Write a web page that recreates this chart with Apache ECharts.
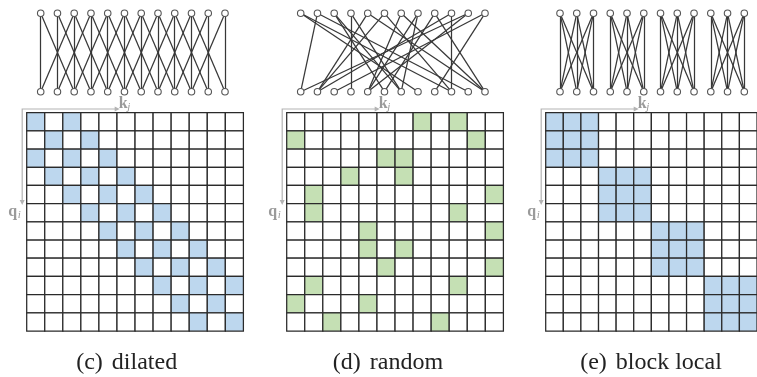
<!DOCTYPE html>
<html>
<head>
<meta charset="utf-8">
<script src="https://cdn.jsdelivr.net/npm/echarts@6/dist/echarts.min.js"></script>
<style>html,body{margin:0;padding:0;background:#fff;}#c{width:757px;height:377px;}</style>
</head>
<body>
<div id="c"></div>
<script>
// ---- data ----
var indices = ['0','1','2','3','4','5','6','7','8','9','10','11'];
var captionTags = ['(c)', '(d)', '(e)'];
var captionNames = ['dilated', 'random', 'block local'];
// colored key columns for each query row
var dilatedCols = [[0,2],[1,3],[0,2,4],[1,3,5],[2,4,6],[3,5,7],[4,6,8],[5,7,9],[6,8,10],[7,9,11],[8,10],[9,11]];
var randomCols  = [[7,9],[0,10],[5,6],[3,6],[1,11],[1,9],[4,11],[4,6],[5,11],[1,9],[0,4],[2,8]];
var blockCols   = [[0,1,2],[0,1,2],[0,1,2],[3,4,5],[3,4,5],[3,4,5],[6,7,8],[6,7,8],[6,7,8],[9,10,11],[9,10,11],[9,10,11]];
var fillColors  = ['#bdd7ee', '#c5e0b4', '#bdd7ee'];

// ---- layout ----
var patterns = [dilatedCols, randomCols, blockCols];
var gridLefts = [26.7, 286.7, 545.7];
var nodeLefts = [40.7, 300.7, 560];
var captionX = [126.7, 388, 651];
var matTop = 112.7, matW = 216.7, matH = 218.3;
var graphTop = 13.3, graphH = 78.4, graphW = 184.3;

var grids = [], xAxes = [], yAxes = [], series = [], graphics = [];
var ARROW = '#b3b3b3', LABEL = '#9a9a9a';

patterns.forEach(function (pat, p) {
  // graph grid (index 2p), matrix grid (index 2p+1)
  grids.push({left: nodeLefts[p], top: graphTop, width: graphW, height: graphH});
  grids.push({left: gridLefts[p], top: matTop, width: matW, height: matH});
  xAxes.push({gridIndex: 2*p, type: 'value', min: 0, max: 11, show: false});
  yAxes.push({gridIndex: 2*p, type: 'value', min: 0, max: 1, show: false});
  xAxes.push({gridIndex: 2*p+1, type: 'category', data: indices, show: false});
  yAxes.push({gridIndex: 2*p+1, type: 'category', data: indices, inverse: true, show: false});

  // nodes & links
  var nodes = [], links = [];
  indices.forEach(function (v, i) { nodes.push({name: 't' + i, value: [i, 1]}); });
  indices.forEach(function (v, j) { nodes.push({name: 'b' + j, value: [j, 0]}); });
  pat.forEach(function (cols, i) {
    cols.forEach(function (j) { links.push({source: i, target: 12 + j}); });
  });
  series.push({
    type: 'graph', coordinateSystem: 'cartesian2d', xAxisIndex: 2*p, yAxisIndex: 2*p,
    symbol: 'circle', symbolSize: 6.5, silent: true, animation: false,
    itemStyle: {color: '#fff', borderColor: '#555', borderWidth: 1.1},
    lineStyle: {color: '#383838', width: 1.25, opacity: 1, curveness: 0},
    label: {show: false},
    data: nodes, links: links
  });

  // matrix cells
  var cells = [];
  indices.forEach(function (r, i) {
    indices.forEach(function (c, j) {
      cells.push([j, i, pat[i].indexOf(j) >= 0 ? 1 : 0]);
    });
  });
  var fc = fillColors[p];
  series.push({
    type: 'custom', xAxisIndex: 2*p+1, yAxisIndex: 2*p+1, silent: true, animation: false,
    data: cells,
    renderItem: function (params, api) {
      var c = api.coord([api.value(0), api.value(1)]);
      var s = api.size([1, 1]);
      return {type: 'rect',
        shape: {x: c[0] - s[0]/2, y: c[1] - s[1]/2, width: s[0], height: s[1]},
        style: {fill: api.value(2) ? fc : '#fff', stroke: '#2a2a2a', lineWidth: 1.25}};
    }
  });

  // axis arrows and labels
  var ax = gridLefts[p] - 4.5, ay = 109, hx = gridLefts[p] + 90, vy = 202;
  graphics.push({type: 'polyline', shape: {points: [[hx, ay], [ax, ay], [ax, vy]]},
    style: {stroke: ARROW, lineWidth: 1.2, fill: null}, silent: true});
  graphics.push({type: 'polygon', shape: {points: [[hx + 3, ay], [hx - 2, ay - 2.5], [hx - 2, ay + 2.5]]},
    style: {fill: ARROW}, silent: true});
  graphics.push({type: 'polygon', shape: {points: [[ax, vy + 3], [ax - 2.5, vy - 2], [ax + 2.5, vy - 2]]},
    style: {fill: ARROW}, silent: true});
  graphics.push({type: 'text', x: hx + 2, y: 96, style: {text: 'k', font: 'bold 16px "Liberation Serif"', fill: LABEL}, silent: true});
  graphics.push({type: 'text', x: hx + 10.5, y: 102, style: {text: 'j', font: 'italic 11px "Liberation Serif"', fill: LABEL}, silent: true});
  graphics.push({type: 'text', x: ax - 14, y: 204, style: {text: 'q', font: 'bold 16px "Liberation Serif"', fill: LABEL}, silent: true});
  graphics.push({type: 'text', x: ax - 4.5, y: 210, style: {text: 'i', font: 'italic 11px "Liberation Serif"', fill: LABEL}, silent: true});

  // caption
  graphics.push({type: 'text', x: captionX[p], y: 363, silent: true,
    style: {text: '{t|' + captionTags[p] + '}{n|' + captionNames[p] + '}', align: 'center', verticalAlign: 'middle',
      rich: {
        t: {fontFamily: 'Liberation Serif', fontSize: 24, fill: '#222', padding: [0, 9, 0, 0]},
        n: {fontFamily: 'Liberation Serif', fontSize: 24, fill: '#222'}
      }}});
});

var chart = echarts.init(document.getElementById('c'), null, {renderer: 'canvas'});
chart.setOption({
  animation: false,
  grid: grids, xAxis: xAxes, yAxis: yAxes, series: series, graphic: graphics
});
</script>
</body>
</html>
